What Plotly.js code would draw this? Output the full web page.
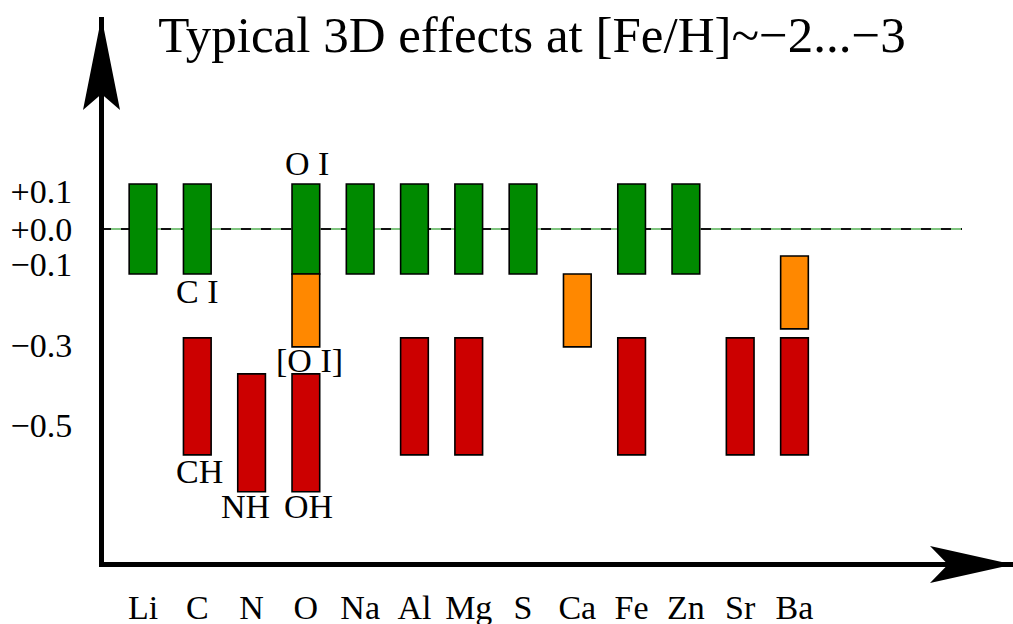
<!DOCTYPE html>
<html>
<head>
<meta charset="utf-8">
<script src="https://cdn.plot.ly/plotly-3.0.1.min.js"></script>
<style>html,body{margin:0;padding:0;background:#fff;}#chart{width:1013px;height:624px;}</style>
</head>
<body>
<div id="chart"></div>
<script>
// Elements (categories along the x axis)
const elements = ["Li","C","N","O","Na","Al","Mg","S","Ca","Fe","Zn","Sr","Ba"];

// Schematic 3D-effect ranges (chart units, 0 = no effect)
// Green: neutral atomic lines (small effect)
const greenEl   = ["Li","C","O","Na","Al","Mg","S","Fe","Zn"];
const greenTop  = [0.10,0.10,0.10,0.10,0.10,0.10,0.10,0.10,0.10];
const greenBot  = [-0.10,-0.10,-0.10,-0.10,-0.10,-0.10,-0.10,-0.10,-0.10];
// Orange: moderate effects
const orangeEl  = ["O","Ca","Ba"];
const orangeTop = [-0.10,-0.10,-0.06];
const orangeBot = [-0.262,-0.262,-0.222];
// Red: large effects (molecules, ionised/minority species)
const redEl     = ["C","N","O","Al","Mg","Fe","Sr","Ba"];
const redTop    = [-0.242,-0.322,-0.322,-0.242,-0.242,-0.242,-0.242,-0.242];
const redBot    = [-0.502,-0.584,-0.584,-0.502,-0.502,-0.502,-0.502,-0.502];

// Y tick labels (schematic positions)
const yTickVals = [0.0833, 0, -0.0778, -0.2578, -0.4367];
const yTickText = ["+0.1","+0.0","\u22120.1","\u22120.3","\u22120.5"];

// Species labels
const labelText = ["O I","C I","[O I]","CH","NH","OH"];
const labelEl   = ["O","C","O","C","N","O"];
const labelY    = [0.1456,-0.1378,-0.2933,-0.5378,-0.6167,-0.6167];
const labelDx   = [1,0,4,2,-6,3];

const FONT = "Liberation Serif, Times New Roman, serif";

function barTrace(els, tops, bots, color){
  return {
    type: "bar",
    x: els,
    base: bots,
    y: tops.map((t,i)=>t - bots[i]),
    width: 0.51,
    marker: {color: color, line: {color: "#000", width: 1.6}},
    hoverinfo: "skip",
    showlegend: false
  };
}

const traces = [
  barTrace(greenEl, greenTop, greenBot, "#008a00"),
  barTrace(orangeEl, orangeTop, orangeBot, "#ff8800"),
  barTrace(redEl, redTop, redBot, "#cc0000")
];

const annotations = labelText.map((t,i)=>({
  x: labelEl[i], y: labelY[i], xref: "x", yref: "y",
  text: t, showarrow: false, xanchor: "center", yanchor: "middle",
  xshift: labelDx[i],
  font: {family: FONT, size: 34, color: "#000"}
}));

// axis geometry helpers (paper coords)
const L = 104, R = 1013, T = 17, B = 562;
const px = v => (v - L) / (R - L);
const py = v => (B - v) / (B - T);

const shapes = [
  // zero line: thin green line with black dashes on top
  {type:"line", xref:"paper", yref:"y", x0:px(101), x1:px(962), y0:0, y1:0,
   line:{color:"#008a00", width:1}, layer:"below"},
  {type:"line", xref:"paper", yref:"y", x0:px(101), x1:px(962), y0:0, y1:0,
   line:{color:"#111", width:2, dash:"10px,10px"}, layer:"below"},
  // y-axis arrow head
  {type:"path", xref:"paper", yref:"paper",
   path:`M ${px(101.5)} ${py(17)} L ${px(83)} ${py(110)} L ${px(101.5)} ${py(94)} L ${px(120)} ${py(110)} Z`,
   fillcolor:"#000", line:{color:"#000", width:0}, layer:"above"},
  // x-axis arrow head
  {type:"path", xref:"paper", yref:"paper",
   path:`M ${px(1013)} ${py(564.5)} L ${px(930)} ${py(546)} L ${px(948)} ${py(564.5)} L ${px(930)} ${py(583)} Z`,
   fillcolor:"#000", line:{color:"#000", width:0}, layer:"above"}
];

const layout = {
  width: 1013, height: 624,
  margin: {l: L, r: 1013 - R, t: T, b: 624 - B, pad: 0},
  paper_bgcolor: "#fff", plot_bgcolor: "#fff",
  barmode: "overlay",
  title: {text: "Typical 3D effects at [Fe/H]~\u22122...\u22123",
          x: 0.5252, xanchor: "center", y: 0.9460, yanchor: "middle", yref: "container",
          font: {family: FONT, size: 51, color: "#000"}},
  xaxis: {
    type: "category", categoryorder: "array", categoryarray: elements,
    range: [(L - 143) / 54.29, (R - 143) / 54.29],
    showgrid: false, zeroline: false, showline: true, linecolor: "#000", linewidth: 5,
    ticks: "", ticklabelstandoff: 11,
    tickfont: {family: FONT, size: 34, color: "#000"}, fixedrange: true
  },
  yaxis: {
    range: [(229 - B) / 450, (229 - T) / 450],
    showgrid: false, zeroline: false, showline: true, linecolor: "#000", linewidth: 5,
    ticks: "", tickmode: "array", tickvals: yTickVals, ticktext: yTickText,
    ticklabelstandoff: 20,
    tickfont: {family: FONT, size: 34, color: "#000"}, fixedrange: true
  },
  shapes: shapes,
  annotations: annotations,
  showlegend: false
};

Plotly.newPlot("chart", traces, layout, {staticPlot: true, displayModeBar: false});
</script>
</body>
</html>
